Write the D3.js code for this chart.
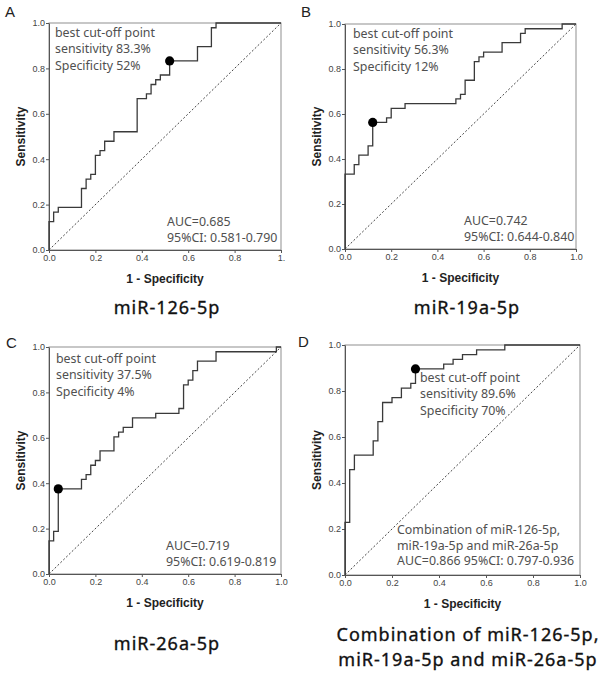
<!DOCTYPE html>
<html>
<head>
<meta charset="utf-8">
<script src="https://cdn.jsdelivr.net/npm/d3@7"></script>
<style>
  html, body { margin: 0; padding: 0; background: #fff; }
  svg { display: block; }
</style>
</head>
<body>
<svg id="chart" width="604" height="674"></svg>
<script>
// ---------------- DATA ----------------
const tickValues = [0, 0.2, 0.4, 0.6, 0.8, 1.0];
const tickLabels = ["0.0", "0.2", "0.4", "0.6", "0.8", "1.0"];
const xTickLabelsA = ["0.0", "0.2", "0.4", "0.6", "0.8", "1."];

// Panel A: miR-126-5p
const fprA = [0, 0, 0.02, 0.04, 0.14, 0.16, 0.18, 0.20, 0.22, 0.24, 0.28, 0.38, 0.42, 0.44, 0.46, 0.48, 0.52, 0.64, 0.70, 0.72, 1.0];
const tprA = [0, 0.125, 0.167, 0.1875, 0.271, 0.3125, 0.333, 0.417, 0.4375, 0.479, 0.521, 0.667, 0.6875, 0.729, 0.75, 0.771, 0.833, 0.896, 0.979, 1.0, 1.0];
const cutA = [0.52, 0.833];

// Panel B: miR-19a-5p
const fprB = [0, 0, 0.04, 0.06, 0.10, 0.12, 0.18, 0.20, 0.26, 0.48, 0.50, 0.52, 0.56, 0.58, 0.60, 0.68, 0.76, 0.78, 0.94, 1.0];
const tprB = [0, 0.333, 0.375, 0.417, 0.458, 0.5625, 0.583, 0.625, 0.646, 0.667, 0.6875, 0.75, 0.833, 0.854, 0.875, 0.917, 0.958, 0.979, 1.0, 1.0];
const cutB = [0.12, 0.5625];

// Panel C: miR-26a-5p
const fprC = [0, 0, 0.02, 0.04, 0.14, 0.16, 0.18, 0.20, 0.22, 0.28, 0.30, 0.32, 0.36, 0.46, 0.56, 0.58, 0.60, 0.62, 0.64, 0.72, 0.98, 1.0];
const tprC = [0, 0.146, 0.1875, 0.375, 0.417, 0.4375, 0.479, 0.5, 0.542, 0.604, 0.625, 0.646, 0.6875, 0.708, 0.729, 0.833, 0.854, 0.896, 0.9375, 0.979, 1.0, 1.0];
const cutC = [0.04, 0.375];

// Panel D: combination
const fprD = [0, 0, 0.02, 0.04, 0.12, 0.14, 0.16, 0.20, 0.24, 0.28, 0.30, 0.42, 0.46, 0.50, 0.56, 0.68, 1.0];
const tprD = [0, 0.229, 0.458, 0.521, 0.583, 0.667, 0.75, 0.771, 0.8125, 0.833, 0.896, 0.917, 0.9375, 0.958, 0.979, 1.0, 1.0];
const cutD = [0.30, 0.896];

const panelLetters = ["A", "B", "C", "D"];
const subtitles = [["miR-126-5p"], ["miR-19a-5p"], ["miR-26a-5p"], ["Combination of miR-126-5p,", "miR-19a-5p and miR-26a-5p"]];
const cutTexts = [
  ["best cut-off point", "sensitivity 83.3%", "Specificity 52%"],
  ["best cut-off point", "sensitivity 56.3%", "Specificity 12%"],
  ["best cut-off point", "sensitivity 37.5%", "Specificity 4%"],
  ["best cut-off point", "sensitivity 89.6%", "Specificity 70%"]
];
const aucTexts = [
  ["AUC=0.685", "95%CI: 0.581-0.790"],
  ["AUC=0.742", "95%CI: 0.644-0.840"],
  ["AUC=0.719", "95%CI: 0.619-0.819"],
  ["Combination of miR-126-5p,", "miR-19a-5p and miR-26a-5p", "AUC=0.866  95%CI: 0.797-0.936"]
];
const xTitle = "1 - Specificity";
const yTitle = "Sensitivity";

// ---------------- LAYOUT ----------------
const layouts = [
  { left: 49, top: 23, w: 232, h: 227, letter: [5, 17], cut: [6, 14], auc: [118, 203], subX: 167, subY: [314] },
  { left: 345, top: 24, w: 231, h: 225, letter: [301, 17], cut: [8, 14], auc: [119, 201], subX: 467, subY: [314] },
  { left: 49, top: 347, w: 232, h: 227, letter: [6, 348], cut: [7, 16], auc: [117, 203], subX: 167, subY: [650] },
  { left: 345, top: 345, w: 235, h: 230, letter: [298, 347], cut: null, auc: [52, 189], subX: 468, subY: [641, 666] }
];
const fprs = [fprA, fprB, fprC, fprD];
const tprs = [tprA, tprB, tprC, tprD];
const cuts = [cutA, cutB, cutC, cutD];

const svg = d3.select("#chart");
const sansUI = "'Noto Sans', 'DejaVu Sans', sans-serif";
const arial = "'Liberation Sans', Arial, sans-serif";

layouts.forEach((L, i) => {
  const x = d3.scaleLinear().domain([0, 1]).range([L.left, L.left + L.w]);
  const y = d3.scaleLinear().domain([0, 1]).range([L.top + L.h, L.top]);
  const g = svg.append("g");

  // frame
  g.append("rect")
    .attr("x", x(0)).attr("y", y(1))
    .attr("width", x(1) - x(0)).attr("height", y(0) - y(1))
    .attr("fill", "none").attr("stroke", "#8f8f8f").attr("stroke-width", 1);

  // axes
  const xl = i === 0 ? xTickLabelsA : tickLabels;
  const xAxis = d3.axisBottom(x).tickValues(tickValues).tickFormat((d, k) => xl[k]).tickSize(3).tickSizeOuter(0).tickPadding(2);
  const yAxis = d3.axisLeft(y).tickValues(tickValues).tickFormat((d, k) => tickLabels[k]).tickSize(3).tickSizeOuter(0).tickPadding(1);
  const gx = g.append("g").attr("transform", `translate(0,${y(0)})`).call(xAxis);
  const gy = g.append("g").attr("transform", `translate(${x(0)},0)`).call(yAxis);
  [gx, gy].forEach(a => {
    a.selectAll("path.domain").attr("stroke", "#555");
    a.selectAll(".tick line").attr("stroke", "#555");
    a.selectAll(".tick text").attr("fill", "#444").style("font-family", arial).style("font-size", "9px");
  });

  // diagonal reference
  g.append("line")
    .attr("x1", x(0)).attr("y1", y(0)).attr("x2", x(1)).attr("y2", y(1))
    .attr("stroke", "#444").attr("stroke-width", 1).attr("stroke-dasharray", "2,2");

  // ROC step curve
  const pts = fprs[i].map((f, k) => [f, tprs[i][k]]);
  const line = d3.line().x(d => x(d[0])).y(d => y(d[1])).curve(d3.curveStepAfter);
  g.append("path").datum(pts).attr("d", line)
    .attr("fill", "none").attr("stroke", "#3a3a3a").attr("stroke-width", 1.3);

  // cut-off point
  g.append("circle").attr("cx", x(cuts[i][0])).attr("cy", y(cuts[i][1])).attr("r", 4.6).attr("fill", "#000");

  // cut-off annotation
  let cx0, cy0;
  if (L.cut) { cx0 = L.left + L.cut[0]; cy0 = L.top + L.cut[1]; }
  else { cx0 = x(cuts[i][0]) + 4.5; cy0 = y(cuts[i][1]) + 13; }
  cutTexts[i].forEach((t, k) => {
    g.append("text").attr("x", cx0).attr("y", cy0 + k * 16.3).text(t)
      .attr("fill", "#505050").style("font-family", sansUI).style("font-size", "12.4px");
  });

  // AUC annotation
  const aucLines = aucTexts[i];
  aucLines.forEach((t, k) => {
    g.append("text").attr("x", L.left + L.auc[0]).attr("y", L.top + L.auc[1] + k * 15.5).text(t)
      .attr("fill", "#505050").style("font-family", sansUI).style("font-size", "12.4px");
  });

  // axis titles
  g.append("text").attr("x", (x(0) + x(1)) / 2).attr("y", y(0) + 33).attr("text-anchor", "middle")
    .text(xTitle).attr("fill", "#222").style("font-family", arial).style("font-size", "12px").style("font-weight", "bold");
  g.append("text").attr("transform", `translate(${x(0) - 24},${(y(0) + y(1)) / 2}) rotate(-90)`)
    .attr("text-anchor", "middle").text(yTitle)
    .attr("fill", "#222").style("font-family", arial).style("font-size", "12px").style("font-weight", "bold");

  // panel letter
  g.append("text").attr("x", L.letter[0]).attr("y", L.letter[1]).text(panelLetters[i])
    .attr("fill", "#222").style("font-family", arial).style("font-size", "15px");

  // subtitle
  subtitles[i].forEach((t, k) => {
    g.append("text").attr("x", L.subX).attr("y", L.subY[k]).attr("text-anchor", "middle").text(t)
      .attr("fill", "#111").attr("stroke", "#111").attr("stroke-width", 0.35)
      .style("font-family", sansUI).style("font-size", "18px").style("letter-spacing", "1px");
  });
});
</script>
</body>
</html>
